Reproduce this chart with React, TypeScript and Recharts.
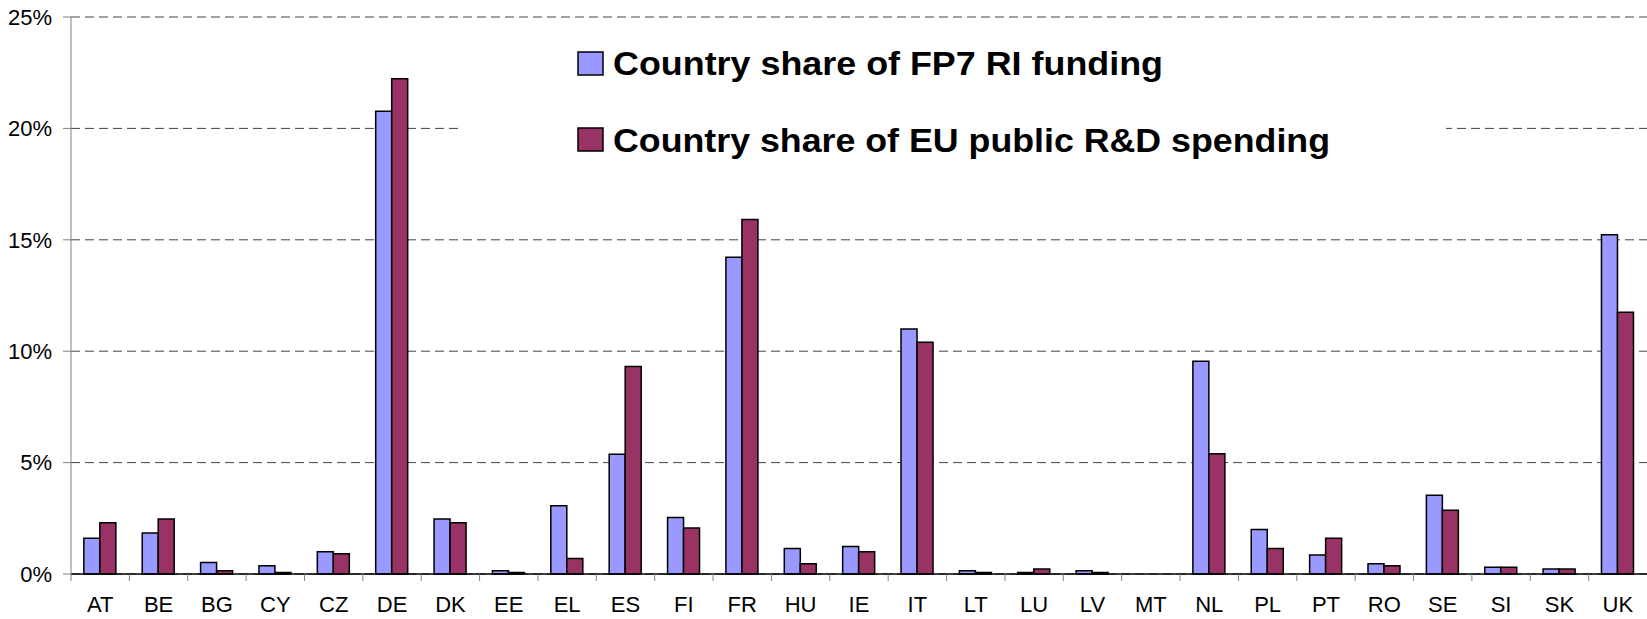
import { Bar, BarChart, CartesianGrid, Legend, XAxis, YAxis } from "recharts";

const countries = ["AT", "BE", "BG", "CY", "CZ", "DE", "DK", "EE", "EL", "ES", "FI", "FR", "HU", "IE", "IT", "LT", "LU", "LV", "MT", "NL", "PL", "PT", "RO", "SE", "SI", "SK", "UK"];
const fp7Share = [1.61, 1.84, 0.52, 0.37, 1.0, 20.77, 2.47, 0.15, 3.06, 5.38, 2.54, 14.22, 1.15, 1.23, 11.0, 0.15, 0.07, 0.15, 0, 9.55, 2.0, 0.85, 0.46, 3.53, 0.3, 0.22, 15.23];
const rdShare = [2.3, 2.47, 0.15, 0.07, 0.91, 22.23, 2.3, 0.07, 0.7, 9.31, 2.06, 15.91, 0.46, 1.0, 10.4, 0.07, 0.22, 0.07, 0, 5.4, 1.15, 1.61, 0.37, 2.86, 0.3, 0.22, 11.75];
const yTicks = [0, 5, 10, 15, 20, 25];
const seriesKeys = ["fp7", "rd"];

const W = 1647;
const H = 619;
const Y_AXIS_W = 71;
const STEP = (W - Y_AXIS_W) / countries.length;
const FONT = '"Liberation Sans", Arial, sans-serif';
const LEGEND_TEXT_WIDTHS = [550, 717];

const data = countries.map((country, i) => ({ country, fp7: fp7Share[i], rd: rdShare[i] }));

function CountryTick(props: any) {
  const { x, y, payload } = props;
  return (
    <g>
      <line x1={x - STEP / 2} y1={y} x2={x - STEP / 2} y2={y + 7} stroke="#808080" />
      <text x={x} y={y + 38} textAnchor="middle" fontSize={22} fill="#000" fontFamily={FONT}>
        {payload.value}
      </text>
    </g>
  );
}

function LegendBox({ payload }: any) {
  // keep series order (recharts sorts legend items by name otherwise)
  const items = [...(payload || [])].sort((a: any, b: any) => seriesKeys.indexOf(a.dataKey) - seriesKeys.indexOf(b.dataKey));
  return (
    <svg width={983} height={170}>
      <rect x={0} y={0} width={983} height={170} fill="#fff" />
      {items.map((item: any, i: number) => (
        <g key={item.value}>
          <rect x={115} y={22 + i * 76} width={25} height={23} fill={item.color} stroke="#000" strokeWidth={1.5} />
          <text
            x={150}
            y={45 + i * 77}
            fontSize={34}
            fontWeight="bold"
            fontFamily={FONT}
            fill="#000"
            textLength={LEGEND_TEXT_WIDTHS[i]}
            lengthAdjust="spacingAndGlyphs"
          >
            {item.value}
          </text>
        </g>
      ))}
    </svg>
  );
}

export default function App() {
  return (
    <div style={{ position: "absolute", left: 0, top: 0, width: W, height: H, background: "#fff" }}>
      <BarChart width={W} height={H} data={data} margin={{ top: 17, right: 0, bottom: 0, left: 0 }} barCategoryGap="22%" barGap={0}>
        <CartesianGrid vertical={false} stroke="#444" strokeDasharray="9 5" />
        <XAxis dataKey="country" interval={0} height={45} tickLine={false} tickSize={0} tickMargin={0} axisLine={{ stroke: "#000", strokeWidth: 1.5 }} tick={<CountryTick />} />
        <YAxis
          width={Y_AXIS_W}
          domain={[0, 25]}
          ticks={yTicks}
          tickFormatter={(v: number) => `${v}%`}
          axisLine={{ stroke: "#808080" }}
          tickLine={{ stroke: "#808080" }}
          tickSize={8}
          tickMargin={11}
          tick={{ fontSize: 22, fill: "#000", fontFamily: FONT }}
        />
        <Legend
          layout="vertical"
          align="center"
          verticalAlign="middle"
          wrapperStyle={{ position: "absolute", left: 463, top: 30, width: 983, height: 170 }}
          content={<LegendBox />}
        />
        <Bar dataKey="fp7" name="Country share of FP7 RI funding" fill="#9999FF" stroke="#000" strokeWidth={1.5} isAnimationActive={false} />
        <Bar dataKey="rd" name="Country share of EU public R&D spending" fill="#993366" stroke="#000" strokeWidth={1.5} isAnimationActive={false} />
      </BarChart>
    </div>
  );
}
